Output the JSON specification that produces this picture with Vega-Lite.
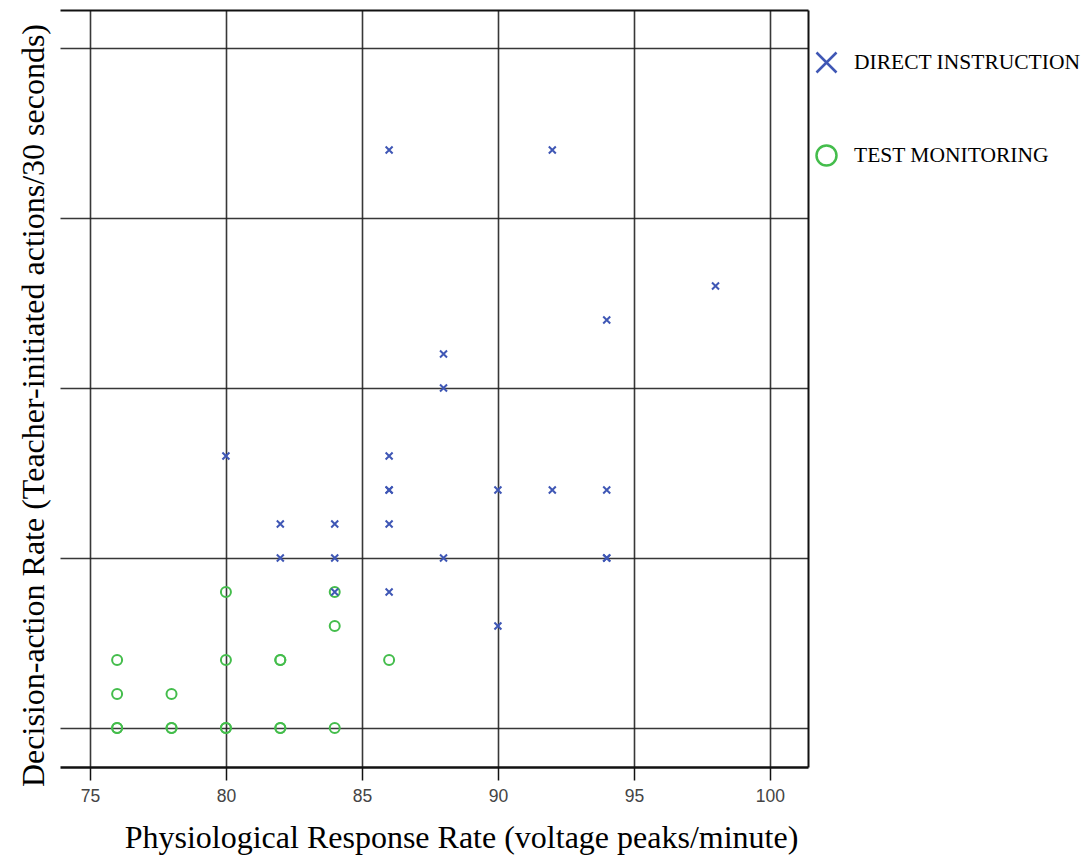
{
  "$schema": "https://vega.github.io/schema/vega-lite/v6.json",
  "autosize": {"type": "none"},
  "width": 748,
  "height": 757,
  "padding": {"left": 60, "top": 10, "right": 283, "bottom": 88},
  "background": "white",
  "config": {
    "view": {"stroke": null},
    "axis": {"gridColor": "#222", "gridWidth": 1.6, "gridOpacity": 0.9}
  },
  "data": {
    "values": [
      {"x": 84, "y": 4, "group": "Test Monitoring"},
      {"x": 80, "y": 4, "group": "Test Monitoring"},
      {"x": 84, "y": 3, "group": "Test Monitoring"},
      {"x": 76, "y": 2, "group": "Test Monitoring"},
      {"x": 80, "y": 2, "group": "Test Monitoring"},
      {"x": 82, "y": 2, "group": "Test Monitoring"},
      {"x": 82, "y": 2, "group": "Test Monitoring"},
      {"x": 86, "y": 2, "group": "Test Monitoring"},
      {"x": 76, "y": 1, "group": "Test Monitoring"},
      {"x": 78, "y": 1, "group": "Test Monitoring"},
      {"x": 76, "y": 0, "group": "Test Monitoring"},
      {"x": 76, "y": 0, "group": "Test Monitoring"},
      {"x": 78, "y": 0, "group": "Test Monitoring"},
      {"x": 78, "y": 0, "group": "Test Monitoring"},
      {"x": 80, "y": 0, "group": "Test Monitoring"},
      {"x": 80, "y": 0, "group": "Test Monitoring"},
      {"x": 82, "y": 0, "group": "Test Monitoring"},
      {"x": 82, "y": 0, "group": "Test Monitoring"},
      {"x": 84, "y": 0, "group": "Test Monitoring"},
      {"x": 86, "y": 17, "group": "Direct Instruction"},
      {"x": 92, "y": 17, "group": "Direct Instruction"},
      {"x": 98, "y": 13, "group": "Direct Instruction"},
      {"x": 94, "y": 12, "group": "Direct Instruction"},
      {"x": 88, "y": 11, "group": "Direct Instruction"},
      {"x": 88, "y": 10, "group": "Direct Instruction"},
      {"x": 80, "y": 8, "group": "Direct Instruction"},
      {"x": 86, "y": 8, "group": "Direct Instruction"},
      {"x": 86, "y": 7, "group": "Direct Instruction"},
      {"x": 86, "y": 7, "group": "Direct Instruction"},
      {"x": 90, "y": 7, "group": "Direct Instruction"},
      {"x": 92, "y": 7, "group": "Direct Instruction"},
      {"x": 94, "y": 7, "group": "Direct Instruction"},
      {"x": 82, "y": 6, "group": "Direct Instruction"},
      {"x": 84, "y": 6, "group": "Direct Instruction"},
      {"x": 86, "y": 6, "group": "Direct Instruction"},
      {"x": 82, "y": 5, "group": "Direct Instruction"},
      {"x": 84, "y": 5, "group": "Direct Instruction"},
      {"x": 88, "y": 5, "group": "Direct Instruction"},
      {"x": 94, "y": 5, "group": "Direct Instruction"},
      {"x": 94, "y": 5, "group": "Direct Instruction"},
      {"x": 84, "y": 4, "group": "Direct Instruction"},
      {"x": 86, "y": 4, "group": "Direct Instruction"},
      {"x": 90, "y": 3, "group": "Direct Instruction"}
    ]
  },
  "layer": [
    {
      "transform": [{"filter": "datum.group === 'Test Monitoring'"}],
      "mark": {"type": "point", "filled": false, "strokeWidth": 2, "opacity": 1, "size": 100},
      "encoding": {
        "x": {
          "field": "x", "type": "quantitative",
          "scale": {"domain": [73.9, 101.4], "nice": false, "zero": false},
          "axis": {
            "orient": "bottom",
            "values": [75, 80, 85, 90, 95, 100],
            "title": "Physiological Response Rate (voltage peaks/minute)",
            "titleFont": "Liberation Serif", "titleFontSize": 32, "titleFontWeight": "normal", "titleColor": "#000",
            "titleX": 401, "titleY": 80, "titleBaseline": "alphabetic", "titleAlign": "center",
            "labelFont": "Liberation Sans", "labelFontSize": 17.5, "labelColor": "#444", "labelPadding": 7,
            "tickSize": 13, "tickColor": "#111", "tickWidth": 1.5,
            "domainColor": "#111", "domainWidth": 2.5,
            "grid": true
          }
        },
        "y": {
          "field": "y", "type": "quantitative",
          "scale": {"domain": [-1.15, 21.12], "nice": false, "zero": false},
          "axis": {
            "orient": "left",
            "values": [0, 5, 10, 15, 20],
            "labels": false, "ticks": false, "domain": false,
            "title": "Decision-action Rate (Teacher-initiated actions/30 seconds)",
            "titleFont": "Liberation Serif", "titleFontSize": 32, "titleFontWeight": "normal", "titleColor": "#000",
            "titleY": 395, "titlePadding": 10,
            "grid": true
          }
        },
        "color": {
          "field": "group", "type": "nominal",
          "scale": {"domain": ["Direct Instruction", "Test Monitoring"], "range": ["#3f57b5", "#44bd4c"]},
          "legend": {
            "title": null, "orient": "none", "legendX": 755, "legendY": 41,
            "labelExpr": "upper(datum.label)",
            "labelFont": "Liberation Serif", "labelFontSize": 21.5, "labelColor": "#000", "labelLimit": 400,
            "symbolSize": 400, "symbolStrokeWidth": 2.5, "labelOffset": 16, "rowPadding": 62,
            "padding": 0,
            "encode": {"symbols": {"update": {"size": {"signal": "datum.value === 'Direct Instruction' ? 110 : 324"}}}}
          }
        },
        "shape": {
          "field": "group", "type": "nominal",
          "scale": {"domain": ["Direct Instruction", "Test Monitoring"], "range": ["M-1,-1L1,1M-1,1L1,-1", "circle"]}
        }
      }
    },
    {
      "transform": [{"filter": "datum.group === 'Direct Instruction'"}],
      "mark": {"type": "point", "filled": false, "strokeWidth": 2, "opacity": 1, "size": 49},
      "encoding": {
        "x": {"field": "x", "type": "quantitative", "axis": null},
        "y": {"field": "y", "type": "quantitative", "axis": null},
        "color": {"field": "group", "type": "nominal"},
        "shape": {"field": "group", "type": "nominal"}
      }
    },
    {
      "mark": {"type": "point", "opacity": 0},
      "encoding": {
        "x": {
          "field": "x", "type": "quantitative",
          "axis": {"orient": "top", "labels": false, "ticks": false, "grid": false, "title": null, "domainColor": "#111", "domainWidth": 2}
        },
        "y": {
          "field": "y", "type": "quantitative",
          "axis": {"orient": "right", "labels": false, "ticks": false, "grid": false, "title": null, "domainColor": "#111", "domainWidth": 2}
        }
      }
    }
  ],
  "resolve": {"axis": {"x": "independent", "y": "independent"}}
}
